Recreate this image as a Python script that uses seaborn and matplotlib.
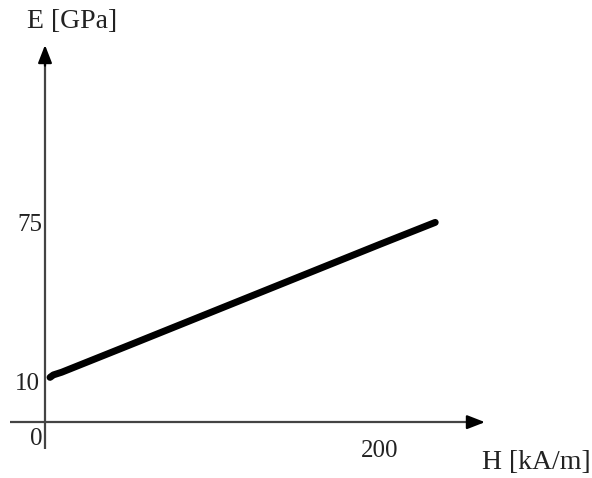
import matplotlib
matplotlib.use("Agg")
import matplotlib.pyplot as plt
import seaborn as sns
import pandas as pd

# Data
H_values = [3, 5, 10, 50, 100, 150, 200, 233]
E_values = [13.3, 14.3, 15.4, 26.3, 40.0, 53.7, 67.4, 76.3]
x_tick_labels = ["0", "200"]
y_tick_labels = ["10", "75"]
x_label = "H [kA/m]"
y_label = "E [GPa]"

sns.set_theme(style="white")
plt.rcParams["font.family"] = ["Liberation Serif", "DejaVu Serif"]

fig = plt.figure(figsize=(5.92, 4.78), dpi=100)
ax = fig.add_axes([0, 0, 1, 1])
ax.set_xlim(-26.87, 326.6)
ax.set_ylim(-27.6, 166.7)
ax.axis("off")

df = pd.DataFrame({"H": H_values, "E": E_values})
sns.lineplot(data=df, x="H", y="E", ax=ax, color="black", linewidth=5.0,
             solid_capstyle="round", solid_joinstyle="round")

axis_color = "#444444"
# x axis with arrow
ax.plot([-20.9, 258], [-4.9, -4.9], color=axis_color, lw=1.6, solid_capstyle="butt")
ax.annotate("", xy=(262.7, -4.9), xytext=(252, -4.9),
            arrowprops=dict(arrowstyle="-|>,head_length=0.9,head_width=0.35",
                            color="black", lw=1.6, shrinkA=0, shrinkB=0))
# y axis with arrow
ax.plot([0, 0], [-15.8, 144], color=axis_color, lw=1.6, solid_capstyle="butt")
ax.annotate("", xy=(0, 148.4), xytext=(0, 140),
            arrowprops=dict(arrowstyle="-|>,head_length=0.9,head_width=0.35",
                            color="black", lw=1.6, shrinkA=0, shrinkB=0))

tk = dict(fontsize=18, color="#222222", ha="center", va="center")
ax.text(-5.4, -11.8, x_tick_labels[0], **tk)
ax.text(200, -16.7, x_tick_labels[1], **tk)
ax.text(-10.7, 10.6, y_tick_labels[0], **tk)
ax.text(-9.0, 75.2, y_tick_labels[1], **tk)

ax.text(293.1, -21.1, x_label, fontsize=20, color="#222222", ha="center", va="center")
ax.text(16.1, 158.1, y_label, fontsize=20, color="#222222", ha="center", va="center")

fig.savefig("out.png", dpi=100, facecolor="white")
